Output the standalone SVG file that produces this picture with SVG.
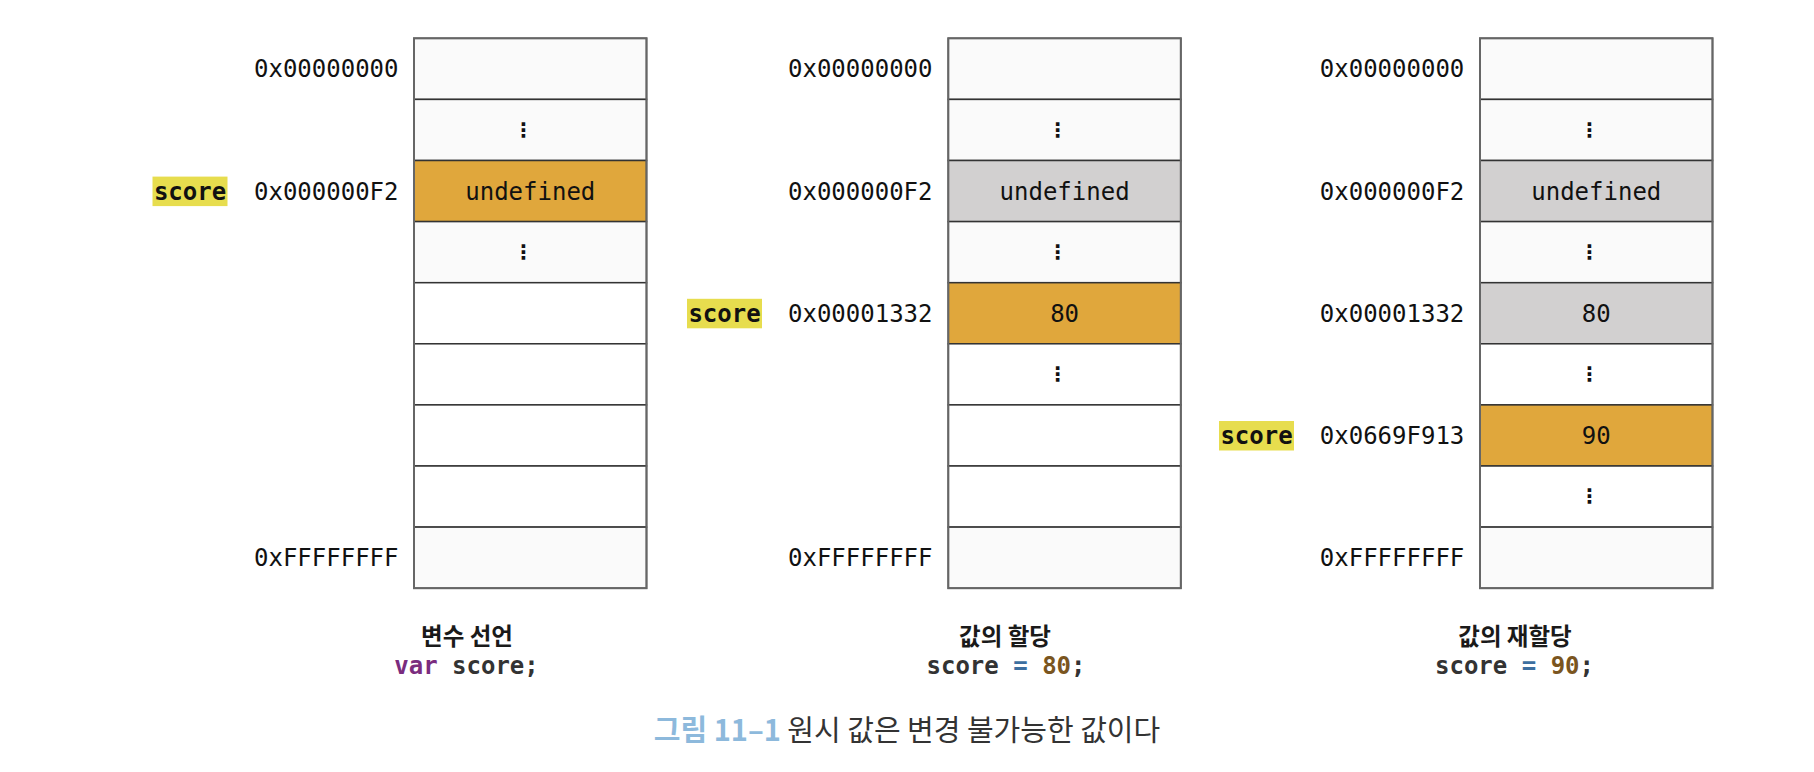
<svg xmlns="http://www.w3.org/2000/svg" width="1814" height="772" viewBox="0 0 1814 772">
<style>
.bg{fill:#ffffff}
.c0{fill:#fafafa;stroke:#333;stroke-width:1.5}
.cw{fill:#ffffff;stroke:#333;stroke-width:1.5}
.cg{fill:#d2d0d0;stroke:#333;stroke-width:1.5}
.co{fill:#e0a73c;stroke:#333;stroke-width:1.5}
.frame{fill:none;stroke:#666;stroke-width:2}
.addr{font-family:"DejaVu Sans Mono","Liberation Mono",monospace;font-size:24px;fill:#111;text-anchor:end}
.val{font-family:"DejaVu Sans Mono","Liberation Mono",monospace;font-size:24px;fill:#111;text-anchor:middle}
.dots{font-family:"DejaVu Sans","Liberation Sans",sans-serif;font-size:20px;font-weight:bold;fill:#111;text-anchor:middle}
.hl{fill:#e7dd4e}
.var{font-family:"DejaVu Sans Mono","Liberation Mono",monospace;font-size:24px;font-weight:bold;fill:#111;text-anchor:middle}
.kt{font-family:"Noto Sans CJK KR","Noto Sans",sans-serif;font-size:23.5px;font-weight:bold;fill:#1a1a1a;text-anchor:middle}
.code{font-family:"DejaVu Sans Mono","Liberation Mono",monospace;font-size:24px;font-weight:bold;fill:#333;text-anchor:middle}
.kw{fill:#7a2c7e}
.op{fill:#3d6fa0}
.num{fill:#7a5520}
.cap{font-family:"Noto Sans CJK KR","Noto Sans",sans-serif;font-size:29px;fill:#333;text-anchor:middle}
.capb{fill:#8db9dc;font-weight:bold}
</style>
<rect class="bg" x="0" y="0" width="1814" height="772"/>

<g id="memory-declaration">
  <rect class="c0" x="414" y="38.3" width="232.5" height="61.1"/>
  <rect class="c0" x="414" y="99.4" width="232.5" height="61.1"/>
  <rect class="co" x="414" y="160.5" width="232.5" height="61.1"/>
  <rect class="c0" x="414" y="221.6" width="232.5" height="61.1"/>
  <rect class="cw" x="414" y="282.7" width="232.5" height="61.1"/>
  <rect class="cw" x="414" y="343.8" width="232.5" height="61.1"/>
  <rect class="cw" x="414" y="404.9" width="232.5" height="61.1"/>
  <rect class="cw" x="414" y="466" width="232.5" height="61.1"/>
  <rect class="c0" x="414" y="527.1" width="232.5" height="61.1"/>
  <rect class="frame" x="414" y="38.3" width="232.5" height="549.9"/>
  <text class="addr" x="398.5" y="77.4">0x00000000</text>
  <text class="dots" x="523.3" y="137">⋮</text>
  <text class="addr" x="398.5" y="199.6">0x000000F2</text>
  <text class="val" x="530.3" y="199.6">undefined</text>
  <text class="dots" x="523.3" y="259">⋮</text>
  <text class="addr" x="398.5" y="566.2">0xFFFFFFFF</text>
  <rect class="hl" x="152.5" y="176.6" width="75" height="29.5"/>
  <text class="var" x="190" y="199.6">score</text>
  <text class="kt" x="467" y="645">변수 선언</text>
  <text class="code" x="466.5" y="674"><tspan class="kw">var</tspan> score;</text>
</g>

<g id="memory-assignment">
  <rect class="c0" x="948.3" y="38.3" width="232.5" height="61.1"/>
  <rect class="c0" x="948.3" y="99.4" width="232.5" height="61.1"/>
  <rect class="cg" x="948.3" y="160.5" width="232.5" height="61.1"/>
  <rect class="c0" x="948.3" y="221.6" width="232.5" height="61.1"/>
  <rect class="co" x="948.3" y="282.7" width="232.5" height="61.1"/>
  <rect class="cw" x="948.3" y="343.8" width="232.5" height="61.1"/>
  <rect class="cw" x="948.3" y="404.9" width="232.5" height="61.1"/>
  <rect class="cw" x="948.3" y="466" width="232.5" height="61.1"/>
  <rect class="c0" x="948.3" y="527.1" width="232.5" height="61.1"/>
  <rect class="frame" x="948.3" y="38.3" width="232.5" height="549.9"/>
  <text class="addr" x="932.5" y="77.4">0x00000000</text>
  <text class="dots" x="1057.6" y="137">⋮</text>
  <text class="addr" x="932.5" y="199.6">0x000000F2</text>
  <text class="val" x="1064.6" y="199.6">undefined</text>
  <text class="dots" x="1057.6" y="259">⋮</text>
  <text class="addr" x="932.5" y="321.8">0x00001332</text>
  <text class="val" x="1064.6" y="321.8">80</text>
  <text class="dots" x="1057.6" y="381">⋮</text>
  <text class="addr" x="932.5" y="566.2">0xFFFFFFFF</text>
  <rect class="hl" x="687" y="298.8" width="75" height="29.5"/>
  <text class="var" x="724.5" y="321.8">score</text>
  <text class="kt" x="1005" y="645">값의 할당</text>
  <text class="code" x="1006" y="674">score <tspan class="op">=</tspan> <tspan class="num">80</tspan>;</text>
</g>

<g id="memory-reassignment">
  <rect class="c0" x="1480" y="38.3" width="232.5" height="61.1"/>
  <rect class="c0" x="1480" y="99.4" width="232.5" height="61.1"/>
  <rect class="cg" x="1480" y="160.5" width="232.5" height="61.1"/>
  <rect class="c0" x="1480" y="221.6" width="232.5" height="61.1"/>
  <rect class="cg" x="1480" y="282.7" width="232.5" height="61.1"/>
  <rect class="cw" x="1480" y="343.8" width="232.5" height="61.1"/>
  <rect class="co" x="1480" y="404.9" width="232.5" height="61.1"/>
  <rect class="cw" x="1480" y="466" width="232.5" height="61.1"/>
  <rect class="c0" x="1480" y="527.1" width="232.5" height="61.1"/>
  <rect class="frame" x="1480" y="38.3" width="232.5" height="549.9"/>
  <text class="addr" x="1464.3" y="77.4">0x00000000</text>
  <text class="dots" x="1589.3" y="137">⋮</text>
  <text class="addr" x="1464.3" y="199.6">0x000000F2</text>
  <text class="val" x="1596.3" y="199.6">undefined</text>
  <text class="dots" x="1589.3" y="259">⋮</text>
  <text class="addr" x="1464.3" y="321.8">0x00001332</text>
  <text class="val" x="1596.3" y="321.8">80</text>
  <text class="dots" x="1589.3" y="381">⋮</text>
  <text class="addr" x="1464.3" y="444">0x0669F913</text>
  <text class="val" x="1596.3" y="444">90</text>
  <text class="dots" x="1589.3" y="503">⋮</text>
  <text class="addr" x="1464.3" y="566.2">0xFFFFFFFF</text>
  <rect class="hl" x="1219" y="421" width="75" height="29.5"/>
  <text class="var" x="1256.5" y="444">score</text>
  <text class="kt" x="1515" y="645">값의 재할당</text>
  <text class="code" x="1514.5" y="674">score <tspan class="op">=</tspan> <tspan class="num">90</tspan>;</text>
</g>

<g id="figure-caption">
  <text class="cap" x="907" y="741"><tspan class="capb">그림 11–1</tspan> 원시 값은 변경 불가능한 값이다</text>
</g>
</svg>
